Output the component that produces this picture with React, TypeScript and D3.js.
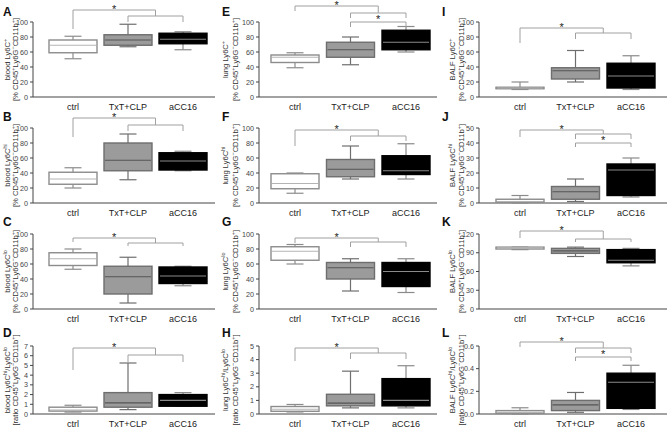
import React from "react";
import * as d3 from "d3";

const groups = ["ctrl", "TxT+CLP", "aCC16"];

// each group: [low whisker, q1, median, q3, high whisker]
const bloodLy6C = [[51, 59, 69, 76, 81], [67, 69, 76, 83, 97], [63, 71, 77, 85, 87]];
const bloodLy6Chi = [[20, 25, 32, 41, 47], [31, 43, 57, 80, 92], [43, 44, 56, 67, 69]];
const bloodLy6Clo = [[53, 58, 67, 75, 80], [8, 20, 43, 57, 69], [31, 34, 44, 56, 57]];
const bloodRatio = [[0.2, 0.3, 0.4, 0.7, 0.9], [0.45, 0.7, 1.15, 2.2, 5.25], [0.8, 0.8, 1.4, 2.0, 2.2]];
const lungLy6C = [[39, 46, 53, 56, 59], [43, 53, 63, 73, 80], [60, 63, 73, 89, 94]];
const lungLy6Chi = [[13, 19, 26, 39, 40], [32, 35, 45, 58, 76], [32, 38, 43, 63, 79]];
const lungLy6Clo = [[60, 65, 77, 83, 86], [24, 40, 55, 62, 67], [22, 30, 50, 62, 67]];
const lungRatio = [[0.15, 0.2, 0.35, 0.55, 0.7], [0.45, 0.6, 0.8, 1.45, 3.15], [0.45, 0.6, 1.0, 2.6, 3.55]];
const balfLy6C = [[10, 11, 12, 13, 20], [20, 24, 35, 39, 62], [10, 12, 28, 45, 55]];
const balfLy6Chi = [[0, 0.5, 1, 2.5, 5], [1, 2.5, 7.5, 11, 16], [4, 5, 22, 26, 30]];
const balfLy6Clo = [[95, 96, 98, 99, 99], [84, 89, 93, 97, 99], [69, 74, 78, 95, 97]];
const balfRatio = [[0, 0.005, 0.015, 0.03, 0.055], [0.015, 0.03, 0.08, 0.12, 0.19], [0.04, 0.05, 0.28, 0.36, 0.43]];

const pctTicks = [0, 20, 40, 60, 80, 100];
const bloodRatioTicks = [0, 1, 2, 3, 4, 5, 6, 7];
const lungRatioTicks = [0, 1, 2, 3, 4, 5];
const balfHiTicks = [0, 10, 20, 30, 40, 50];
const balfLoTicks = [0, 30, 60, 90, 120];
const balfRatioTicks = [0, 0.2, 0.4, 0.6];

// layout
const colAxis = [33, 259, 479];
const colEnd = [215, 437, 667];
const colCenters = [[40, 150], [36, 147], [41, 152]];
const colLetterX = [3, 222, 442];
const colTitle = [[-23, -15], [-31, -21], [-24, -15]];
const rowRange = [[22, 97], [128, 203], [234, 309], [346, 414]];
const rowLetterY = [16, 121, 226, 337];

const fills = ["#ffffff", "#9b9b9b", "#000000"];
const strokes = ["#8c8c8c", "#6e6e6e", "#000000"];
const medians = ["#b4b4b4", "#555555", "#8a8a8a"];
const whiskers = ["#8c8c8c", "#6e6e6e", "#8a8a8a"];
const font = "'Liberation Sans', Arial, sans-serif";

type Part = [string, boolean?];
const pct: Part[] = [["[% CD45"], ["+", true], ["Ly6G"], ["\u2212", true], ["CD11b"], ["+", true], ["]"]];
const ratio: Part[] = [["[ratio CD45"], ["+", true], ["Ly6G"], ["\u2212", true], ["CD11b"], ["+", true], ["]"]];
const t1 = (tissue: string, sup: string): Part[] => [[tissue + " Ly6C"], [sup, true]];
const t1r = (tissue: string): Part[] => [[tissue + " Ly6C"], ["hi", true], ["/Ly6C"], ["lo", true]];

// bracket offsets (px from top of y axis): top, ctrl leg, second, second legs, [third, third legs]
const panels = [
  { letter: "A", col: 0, row: 0, data: bloodLy6C, ticks: pctTicks, fmt: "d", title: [t1("blood", "+"), pct], br: [-12, 7, -6, 0] },
  { letter: "B", col: 0, row: 1, data: bloodLy6Chi, ticks: pctTicks, fmt: "d", title: [t1("blood", "hi"), pct], br: [-10, 9, -3, 3] },
  { letter: "C", col: 0, row: 2, data: bloodLy6Clo, ticks: pctTicks, fmt: "d", title: [t1("blood", "lo"), pct], br: [4, 8, 9, 12] },
  { letter: "D", col: 0, row: 3, data: bloodRatio, ticks: bloodRatioTicks, fmt: "d", title: [t1r("blood"), ratio], br: [2, 24, 9, 16] },
  { letter: "E", col: 1, row: 0, data: lungLy6C, ticks: pctTicks, fmt: "d", title: [t1("lung", "+"), pct], br: [-16, -11, -9, -4, 0, 5] },
  { letter: "F", col: 1, row: 1, data: lungLy6Chi, ticks: pctTicks, fmt: "d", title: [t1("lung", "hi"), pct], br: [2, 18, 8, 13] },
  { letter: "G", col: 1, row: 2, data: lungLy6Clo, ticks: pctTicks, fmt: "d", title: [t1("lung", "lo"), pct], br: [4, 9, 8, 13] },
  { letter: "H", col: 1, row: 3, data: lungRatio, ticks: lungRatioTicks, fmt: "d", title: [t1r("lung"), ratio], br: [2, 15, 7, 13] },
  { letter: "I", col: 2, row: 0, data: balfLy6C, ticks: pctTicks, fmt: "d", title: [t1("BALF", "+"), pct], br: [6, 21, 11, 17] },
  { letter: "J", col: 2, row: 1, data: balfLy6Chi, ticks: balfHiTicks, fmt: "d", title: [t1("BALF", "hi"), pct], br: [2, 9, 6, 11, 15, 19] },
  { letter: "K", col: 2, row: 2, data: balfLy6Clo, ticks: balfLoTicks, fmt: "d", title: [t1("BALF", "lo"), pct], br: [-3, 4, 5, 8] },
  { letter: "L", col: 2, row: 3, data: balfRatio, ticks: balfRatioTicks, fmt: ".1f", title: [t1r("BALF"), ratio], br: [-4, 1, 2, 7, 11, 15] },
];

function Title({ parts, x, y }: { parts: Part[]; x: number; y: number }) {
  let shift = 0;
  return (
    <text transform={`translate(${x},${y}) rotate(-90)`} textAnchor="middle" fontSize={7.6} fill="#333" fontFamily={font}>
      {parts.map(([s, sup], i) => {
        const target = sup ? -3 : 0;
        const dy = target - shift;
        shift = target;
        return (
          <tspan key={i} dy={dy} fontSize={sup ? 5.5 : 7.6}>
            {s}
          </tspan>
        );
      })}
    </text>
  );
}

function Star({ x, y }: { x: number; y: number }) {
  return (
    <text x={x} y={y} textAnchor="middle" fontSize={11} fill="#222" fontFamily={font} opacity={0.99}>
      *
    </text>
  );
}

function Panel({ p }: { p: (typeof panels)[number] }) {
  const x0 = colAxis[p.col];
  const [top, zero] = rowRange[p.row];
  const y = d3.scaleLinear().domain([0, p.ticks[p.ticks.length - 1]]).range([zero, top]);
  const x = d3.scalePoint<string>().domain(groups).range([x0 + colCenters[p.col][0], x0 + colCenters[p.col][1]]);
  const fmt = d3.format(p.fmt);
  const bw = 48;
  const cap = 17;
  const axisColor = "#444";
  const brColor = "#a0a0a0";
  const cx = groups.map((g) => x(g) as number);
  const rightX = (cx[1] + cx[2]) / 2;
  const b = p.br.map((v) => top + v);
  const cy = (top + zero) / 2;
  return (
    <g>
      <text x={colLetterX[p.col]} y={rowLetterY[p.row]} fontSize={12} fontWeight="bold" fontFamily={font} fill="#111">
        {p.letter}
      </text>
      <Title parts={p.title[0]} x={x0 + colTitle[p.col][0]} y={cy} />
      <Title parts={p.title[1]} x={x0 + colTitle[p.col][1]} y={cy} />
      {/* axes */}
      <line x1={x0} x2={x0} y1={y(0)} y2={top} stroke={axisColor} strokeWidth={1} />
      <line x1={x0} x2={colEnd[p.col]} y1={zero} y2={zero} stroke={axisColor} strokeWidth={1} />
      {p.ticks.map((t) => (
        <g key={t}>
          <line x1={x0 - 3} x2={x0} y1={y(t)} y2={y(t)} stroke={axisColor} />
          <text x={x0 - 5} y={y(t) + 2.5} textAnchor="end" fontSize={7.2} fill="#444" fontFamily={font}>
            {fmt(t)}
          </text>
        </g>
      ))}
      {groups.map((g, i) => (
        <text key={g} x={cx[i]} y={zero + 13} textAnchor="middle" fontSize={9} fill="#222" fontFamily={font}>
          {g}
        </text>
      ))}
      {/* boxes */}
      {p.data.map(([lo, q1, med, q3, hi], i) => (
        <g key={i}>
          <line x1={cx[i]} x2={cx[i]} y1={y(hi)} y2={y(q3)} stroke={whiskers[i]} strokeWidth={1.2} />
          <line x1={cx[i]} x2={cx[i]} y1={y(q1)} y2={y(lo)} stroke={whiskers[i]} strokeWidth={1.2} />
          <line x1={cx[i] - cap / 2} x2={cx[i] + cap / 2} y1={y(hi)} y2={y(hi)} stroke={whiskers[i]} strokeWidth={1.2} />
          <line x1={cx[i] - cap / 2} x2={cx[i] + cap / 2} y1={y(lo)} y2={y(lo)} stroke={whiskers[i]} strokeWidth={1.2} />
          <rect x={cx[i] - bw / 2} y={y(q3)} width={bw} height={Math.max(0.5, y(q1) - y(q3))} fill={fills[i]} stroke={strokes[i]} strokeWidth={1.4} />
          <line x1={cx[i] - bw / 2 + 1} x2={cx[i] + bw / 2 - 1} y1={y(med)} y2={y(med)} stroke={medians[i]} strokeWidth={1.2} />
        </g>
      ))}
      {/* significance */}
      <path d={`M${cx[0]},${b[1]}V${b[0]}H${rightX}V${b[2]}`} fill="none" stroke={brColor} strokeWidth={1} />
      <path d={`M${cx[1]},${b[3]}V${b[2]}H${cx[2]}V${b[3]}`} fill="none" stroke={brColor} strokeWidth={1} />
      <Star x={(cx[0] + rightX) / 2} y={b[0] + 3} />
      {p.br.length > 4 && (
        <g>
          <path d={`M${cx[1]},${b[5]}V${b[4]}H${cx[2]}V${b[5]}`} fill="none" stroke={brColor} strokeWidth={1} />
          <Star x={rightX} y={(b[2] + b[4]) / 2 + 5} />
        </g>
      )}
    </g>
  );
}

export default function App() {
  return (
    <svg width={669} height={435} style={{ position: "absolute", left: 0, top: 0, background: "#fff" }}>
      {panels.map((p) => (
        <Panel key={p.letter} p={p} />
      ))}
    </svg>
  );
}
